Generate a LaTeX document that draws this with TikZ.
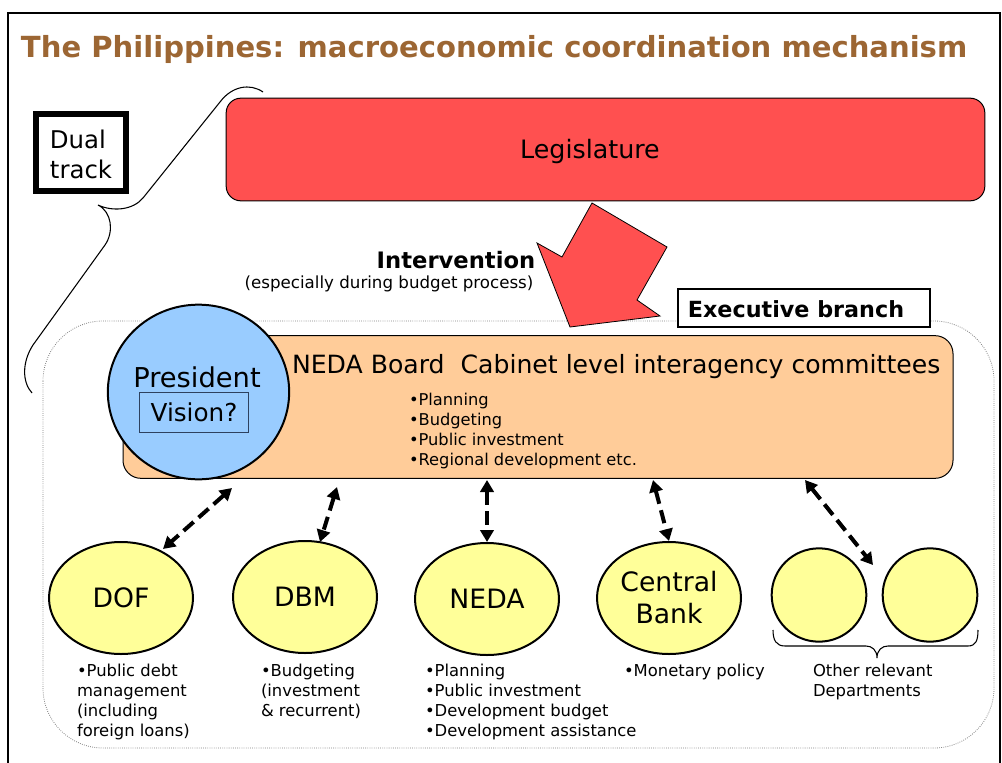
\documentclass[tikz,border=0pt]{standalone}
\usepackage{fontspec}
\setmainfont{DejaVu Sans}
\usetikzlibrary{shapes.geometric,arrows.meta}
\definecolor{legred}{RGB}{255,80,80}
\definecolor{boardor}{RGB}{255,204,153}
\definecolor{presblue}{RGB}{153,204,255}
\definecolor{deptyel}{RGB}{255,255,153}
\definecolor{titlebrown}{RGB}{156,102,51}
\definecolor{visionedge}{RGB}{45,65,95}
\begin{document}
\begin{tikzpicture}[x=0.75pt,y=-0.75pt,
  txt/.style={inner sep=0pt,outer sep=0pt},
  bigtxt/.style={txt,font=\fontsize{18.85}{23}\selectfont},
  smalltxt/.style={txt,font=\fontsize{12.3}{15}\selectfont,align=left,anchor=north west},
  dept/.style={ellipse,draw=black,line width=1.5pt,fill=deptyel,minimum width=108pt,minimum height=84pt,inner sep=0pt,font=\fontsize{20}{24}\selectfont,align=center},
  deptcirc/.style={ellipse,draw=black,line width=1.5pt,fill=deptyel,minimum width=71pt,minimum height=70pt,inner sep=0pt},
  dasharrow/.style={line width=3pt,dash pattern=on 10pt off 5pt,{Triangle[length=9pt,width=10pt]}-{Triangle[length=9pt,width=10pt]}},
  bracepath/.style={draw=black,line width=0.8pt},
]
\useasboundingbox (0,0) rectangle (1002,763);
% outer frame
\draw[line width=1.5pt] (8,763) -- (8,13) -- (1000,13) -- (1000,763);
% title
\node[txt,anchor=base west,font=\fontsize{21.8}{26}\bfseries\selectfont,text=titlebrown] (title) at (21,58) {The Philippines: macroeconomic coordination mechanism};
% executive dotted frame
\draw[gray,line width=0.6pt,densely dotted,rounded corners=45pt] (43,321) rectangle (994,748);
% legislature
\node[draw=black,line width=0.75pt,fill=legred,rounded corners=11pt,minimum width=569pt,minimum height=77pt] (leg) at (605.5,149.5) {};
\node[txt,font=\fontsize{19}{23}\selectfont] (legtxt) at (590,152) {Legislature};
% dual track
\node[draw=black,line width=4.5pt,fill=white,minimum width=67.5pt,minimum height=57.75pt,inner sep=0pt] (dual) at (81,152.5) {};
\node[txt,font=\fontsize{18.3}{22.5}\selectfont,align=left] (dualtxt) at (81,154) {Dual\\track};
% top-left brace
\draw[bracepath] (263,92) .. controls (250,83) and (232,86) .. (220,102) -- (143,198) .. controls (133,210) and (113,212) .. (98,205) .. controls (112,212) and (114,232) .. (105,245) -- (33,345) .. controls (22,362) and (22,382) .. (32,393);
% intervention arrow
\draw[fill=legred,draw=black,line width=0.6pt] (592,203) -- (667,247) -- (637,300) -- (660,316) -- (570,327) -- (537,243) -- (562,257) -- cycle;
\node[txt,font=\fontsize{17}{20}\bfseries\selectfont] (interv) at (456,260) {Intervention};
\node[txt,font=\fontsize{12.5}{15}\selectfont] (intervsub) at (389,284) {(especially during budget process)};
% executive branch label
\node[draw=black,line width=1.5pt,fill=white,minimum width=189pt,minimum height=28.5pt,inner sep=0pt] (exec) at (804,308) {};
\node[txt,font=\fontsize{16.7}{19}\bfseries\selectfont] (exectxt) at (796,309) {Executive branch};
% NEDA board box
\node[draw=black,line width=0.75pt,fill=boardor,rounded corners=13.5pt,minimum width=622.5pt,minimum height=107pt] (board) at (538,407) {};
\node[bigtxt,anchor=west] (boardtxt) at (292,367) {NEDA Board\ \ Cabinet level interagency committees};
\node[smalltxt,font=\fontsize{12.2}{15}\selectfont] (boardlist) at (409,393) {•Planning\\•Budgeting\\•Public investment\\•Regional development etc.};
% president
\node[ellipse,draw=black,line width=1.5pt,fill=presblue,minimum width=136pt,minimum height=131pt,inner sep=0pt] (pres) at (198.5,392) {};
\node[txt,font=\fontsize{20.5}{24}\selectfont] (prestxt) at (197,377) {President};
\node[draw=visionedge,line width=0.75pt,minimum width=82pt,minimum height=30pt,inner sep=0pt,font=\fontsize{18.5}{22}\selectfont] (vision) at (194,412.5) {Vision?};
% departments
\node[dept] (dof) at (121,598) {DOF};
\node[dept] (dbm) at (305,597) {DBM};
\node[dept] (neda) at (487,599) {NEDA};
\node[dept] (cb) at (669,598) {Central\\Bank};
\node[deptcirc] (oth1) at (819,595) {};
\node[deptcirc] (oth2) at (930,595) {};
% connectors
\coordinate (t1) at (232,488);
\coordinate (b1) at (163,549);
\coordinate (t2) at (337,487);
\coordinate (b2) at (320,542);
\coordinate (t3) at (487,480);
\coordinate (t4) at (653,480);
\coordinate (t5) at (805,480);
\coordinate (b5) at (873,565);
\draw[dasharrow] (t1) -- (b1);
\draw[dasharrow] (t2) -- (b2);
\draw[dasharrow] (t3) -- (neda.north);
\draw[dasharrow] (t4) -- (cb.north);
\draw[dasharrow] (t5) -- (b5);
% bottom brace
\draw[bracepath] (773,630) .. controls (773,640) and (776,646) .. (785,646) -- (866,646) .. controls (872,646) and (877,650) .. (877,658) .. controls (877,650) and (882,646) .. (888,646) -- (968,646) .. controls (976,646) and (978,640) .. (978,630);
% bottom texts
\node[smalltxt] (doftxt) at (77,664) {•Public debt\\management\\(including\\foreign loans)};
\node[smalltxt] (dbmtxt) at (261,664) {•Budgeting\\(investment\\\& recurrent)};
\node[smalltxt] (nedatxt) at (425,664) {•Planning\\•Public investment\\•Development budget\\•Development assistance};
\node[smalltxt] (cbtxt) at (624,664) {•Monetary policy};
\node[smalltxt] (othtxt) at (813,664) {Other relevant\\Departments};
\end{tikzpicture}
\end{document}
